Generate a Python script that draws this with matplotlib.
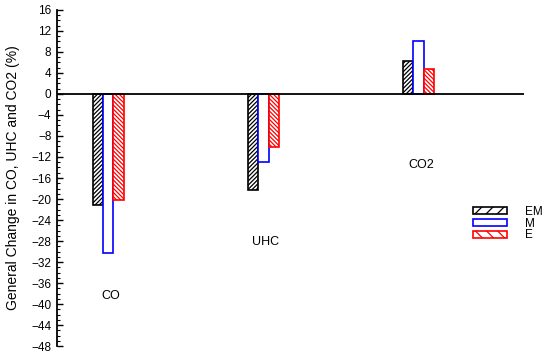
import matplotlib.pyplot as plt
from matplotlib.ticker import MultipleLocator

plt.rcParams['font.family'] = ['Liberation Sans', 'DejaVu Sans']
plt.rcParams['hatch.linewidth'] = 0.9

groups = ['CO', 'UHC', 'CO2']
series = ['EM', 'M', 'E']
em = [-21.2, -18.2, 6.3]
m = [-30.2, -12.9, 10.1]
e = [-20.2, -10.1, 4.7]
# where the group names are written (data y)
label_y = [-38.5, -28.2, -13.5]

colors = {'EM': 'black', 'M': 'blue', 'E': 'red'}
hatches = {'EM': '////////', 'M': '', 'E': '\\\\\\\\\\\\\\\\'}
values = {'EM': em, 'M': m, 'E': e}

fig = plt.figure(figsize=(5.5, 3.56), dpi=100)
ax = fig.add_axes([0.1036, 0.028, 0.8494, 0.944])

x = [1, 2, 3]
width = 0.067
offsets = {'EM': -width, 'M': 0, 'E': width}
handles = []
for s in series:
    b = ax.bar([xi + offsets[s] for xi in x], values[s], width=width,
               facecolor='white', edgecolor=colors[s], hatch=hatches[s],
               linewidth=1.2, label=s, zorder=2)
    handles.append(b)

ax.axhline(0, color='black', linewidth=1.3, zorder=3)

for xi, g, ly in zip(x, groups, label_y):
    ax.text(xi + 0.015, ly, g, ha='center', va='center', fontsize=9)

ax.set_xlim(0.67, 3.68)
ax.set_ylim(-48, 16)
ax.yaxis.set_major_locator(MultipleLocator(4))
ax.yaxis.set_minor_locator(MultipleLocator(1))
ax.tick_params(axis='y', which='major', direction='in', length=4, width=1, labelsize=8.5, pad=4)
ax.tick_params(axis='y', which='minor', direction='in', length=2, width=0.8)
ax.set_xticks([])
for sp in ['top', 'right', 'bottom']:
    ax.spines[sp].set_visible(False)
ax.spines['left'].set_linewidth(1.3)
ax.set_ylabel('General Change in CO, UHC and CO2 (%)', fontsize=10, labelpad=8)

leg = ax.legend(handles=handles, labels=series, loc='upper left',
                bbox_to_anchor=(0.891, 0.417), frameon=False, fontsize=8.5,
                handlelength=2.9, handleheight=0.5, labelspacing=-0.02,
                handletextpad=1.5, borderpad=0, borderaxespad=0)
for h in leg.legend_handles:
    h.set_hatch(h.get_hatch()[:3] if h.get_hatch() else None)

fig.savefig('out.png', dpi=100)
